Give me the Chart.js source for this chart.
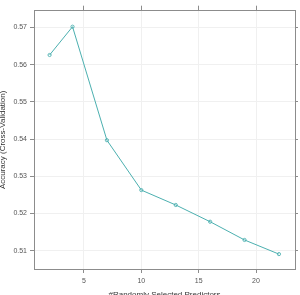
<!DOCTYPE html>
<html>
<head>
<meta charset="utf-8">
<script src="https://cdn.jsdelivr.net/npm/chart.js@4/dist/chart.umd.min.js"></script>
<style>
html,body{margin:0;padding:0;background:#fff;overflow:hidden;}
#wrap{width:300px;height:295px;position:relative;}
</style>
</head>
<body>
<div id="wrap"><canvas id="c" width="300" height="295"></canvas></div>
<script>
const predictors = [2, 4, 7, 10, 13, 16, 19, 22];
const accuracy = [0.5626, 0.5702, 0.5397, 0.5263, 0.5223, 0.5178, 0.5129, 0.5091];
const xTickValues = [5, 10, 15, 20];
const yTickValues = [0.51, 0.52, 0.53, 0.54, 0.55, 0.56, 0.57];
const xTitle = '#Randomly Selected Predictors';
const yTitle = 'Accuracy (Cross-Validation)';

const X_MIN = 0.64, X_MAX = 23.4, Y_MIN = 0.5051, Y_MAX = 0.5745;
const LINE = '#4cb0b0';
const FRAME = '#8c8c8c';
const GRID = '#f0f0f0';
const FONT = 'Liberation Sans, Arial, sans-serif';

const setTicks = (vals) => (scale) => { scale.ticks = vals.map(v => ({value: v})); };

new Chart(document.getElementById('c'), {
  type: 'line',
  data: {
    datasets: [{
      data: predictors.map((x, i) => ({x, y: accuracy[i]})),
      borderColor: LINE,
      backgroundColor: 'rgba(0,0,0,0)',
      borderWidth: 1,
      pointRadius: 1.6,
      pointBorderWidth: 0.9,
      pointBorderColor: LINE,
      pointBackgroundColor: 'rgba(0,0,0,0)',
      tension: 0
    }]
  },
  options: {
    responsive: false,
    animation: false,
    devicePixelRatio: 1,
    layout: {padding: 0},
    plugins: {legend: {display: false}, tooltip: {enabled: false}},
    scales: {
      x: {
        type: 'linear', position: 'bottom', min: X_MIN, max: X_MAX,
        afterBuildTicks: setTicks(xTickValues),
        afterFit: (s) => { s.height = 26; },
        grid: {color: GRID, tickColor: FRAME, tickLength: 4, lineWidth: 1},
        border: {color: FRAME, width: 1},
        ticks: {color: '#555', font: {family: FONT, size: 7}, padding: 4, maxRotation: 0},
        title: {display: true, text: xTitle, color: '#333', font: {family: FONT, size: 8}, padding: {top: 0, bottom: -5}}
      },
      x2: {
        type: 'linear', position: 'top', min: X_MIN, max: X_MAX,
        afterBuildTicks: setTicks(xTickValues),
        afterFit: (s) => { s.height = 10.7; },
        grid: {drawOnChartArea: false, tickColor: FRAME, tickLength: 5},
        border: {color: FRAME, width: 1},
        ticks: {display: false}
      },
      y: {
        type: 'linear', position: 'left', min: Y_MIN, max: Y_MAX,
        afterBuildTicks: setTicks(yTickValues),
        afterFit: (s) => { s.width = 34; },
        grid: {color: GRID, tickColor: FRAME, tickLength: 4, lineWidth: 1},
        border: {color: FRAME, width: 1},
        ticks: {color: '#555', font: {family: FONT, size: 7}, padding: 3, callback: (v) => Number(v).toFixed(2)},
        title: {display: true, text: yTitle, color: '#333', font: {family: FONT, size: 8}, padding: {top: -2, bottom: 0}}
      },
      y2: {
        type: 'linear', position: 'right', min: Y_MIN, max: Y_MAX,
        afterBuildTicks: setTicks(yTickValues),
        afterFit: (s) => { s.width = 5; },
        grid: {drawOnChartArea: false, tickColor: FRAME, tickLength: 3},
        border: {color: FRAME, width: 1},
        ticks: {display: false}
      }
    }
  },
  plugins: [{
    id: 'bg',
    beforeDraw(chart) {
      const ctx = chart.ctx;
      ctx.save(); ctx.fillStyle = '#fff'; ctx.fillRect(0, 0, chart.width, chart.height); ctx.restore();
    }
  }]
});
</script>
</body>
</html>
